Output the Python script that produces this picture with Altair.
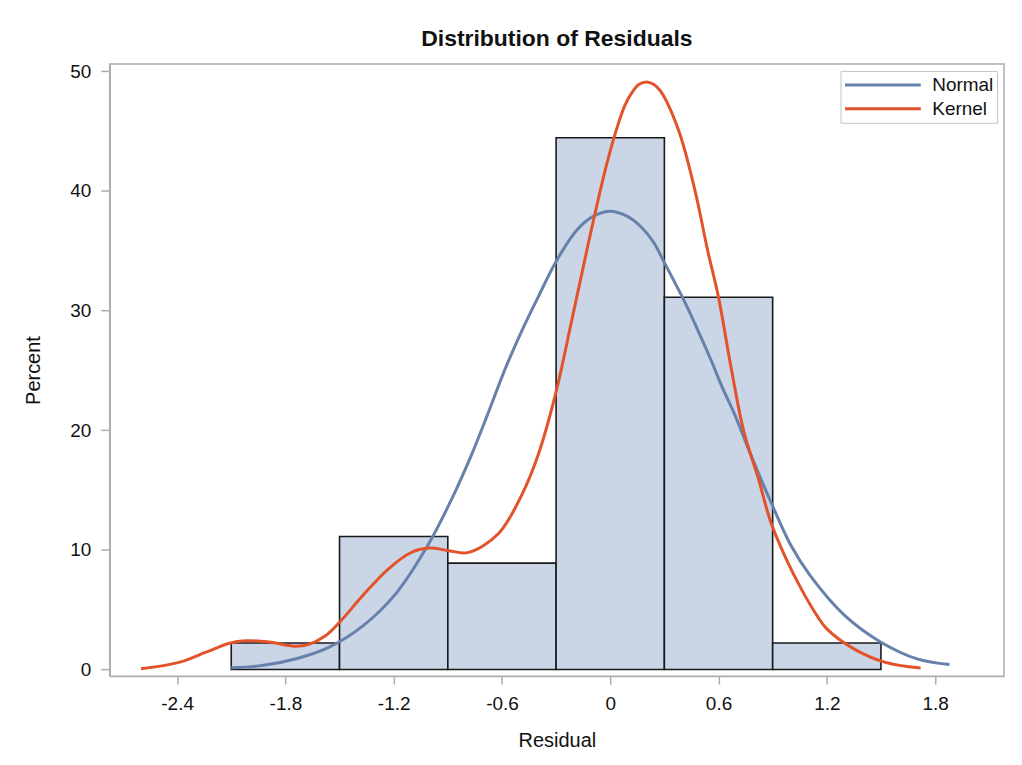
import altair as alt
import pandas as pd

# Histogram bins (Residual) and percentages
bin_start = [-2.1, -1.5, -0.9, -0.3, 0.3, 0.9]
bin_end = [-1.5, -0.9, -0.3, 0.3, 0.9, 1.5]
bin_percent = [2.22, 11.11, 8.89, 44.44, 31.11, 2.22]

# Normal curve points
normal_x = [-2.10, -1.93, -1.74, -1.56, -1.37, -1.19, -1.01, -0.88, -0.77, -0.68,
            -0.58, -0.49, -0.40, -0.30, -0.18, -0.09, 0.0, 0.09, 0.17, 0.24,
            0.30, 0.41, 0.49, 0.56, 0.62, 0.69, 0.78, 0.89, 1.00, 1.11,
            1.30, 1.50, 1.70, 1.88]
normal_y = [0.14, 0.33, 0.9, 1.85, 3.65, 6.3, 10.4, 14.2, 17.9, 21.3,
            25.2, 28.3, 31.1, 34.1, 36.8, 37.9, 38.3, 37.9, 37.0, 35.7,
            34.0, 30.8, 28.2, 25.8, 23.6, 21.3, 17.9, 14.0, 10.4, 7.8,
            4.5, 2.28, 0.89, 0.42]

# Kernel density curve points
kernel_x = [-2.60, -2.39, -2.24, -2.11, -2.02, -1.89, -1.75, -1.67, -1.58, -1.50,
            -1.37, -1.23, -1.10, -1.00, -0.90, -0.79, -0.62, -0.49, -0.40, -0.305,
            -0.21, -0.12, -0.03, 0.03, 0.08, 0.12, 0.16, 0.20, 0.24, 0.28,
            0.38, 0.47, 0.54, 0.60, 0.67, 0.74, 0.82, 0.89, 0.97, 1.06,
            1.15, 1.20, 1.35, 1.52, 1.72]
kernel_y = [0.06, 0.6, 1.45, 2.2, 2.4, 2.3, 1.95, 2.1, 2.8, 3.95,
            6.2, 8.4, 9.8, 10.15, 9.95, 9.77, 11.35, 14.6, 17.9, 22.9,
            29.4, 35.7, 41.6, 44.9, 47.1, 48.2, 48.9, 49.1, 48.9, 48.3,
            45.0, 40.0, 35.0, 31.1, 25.2, 19.9, 16.0, 12.3, 9.4, 6.7,
            4.4, 3.4, 1.73, 0.62, 0.12]

x_ticks = [-2.4, -1.8, -1.2, -0.6, 0, 0.6, 1.2, 1.8]
y_ticks = [0, 10, 20, 30, 40, 50]

bars = pd.DataFrame({"start": bin_start, "end": bin_end, "pct": bin_percent})
curves = pd.concat([
    pd.DataFrame({"x": normal_x, "y": normal_y, "curve": "Normal", "o": range(len(normal_x))}),
    pd.DataFrame({"x": kernel_x, "y": kernel_y, "curve": "Kernel", "o": range(len(kernel_x))}),
])

FONT = "Liberation Sans"
xdom = [-2.7735, 2.182]
ydom = [-0.55, 50.6]

xscale = alt.Scale(domain=xdom, nice=False, zero=False)
yscale = alt.Scale(domain=ydom, nice=False, zero=False)

x_axis = alt.Axis(
    values=x_ticks, title="Residual", grid=False,
    labelExpr="datum.value == 0 ? '0' : (datum.value < 0 ? '-' : '') + format(abs(datum.value), '.1f')",
    labelFontSize=19, titleFontSize=20, titleFontWeight="normal",
    tickSize=8, labelPadding=10, titlePadding=18,
    domainColor="#A9AEB3", tickColor="#A9AEB3", labelColor="#111111", titleColor="#111111",
)
y_axis = alt.Axis(
    values=y_ticks, title="Percent", grid=False, format="d",
    labelFontSize=19, titleFontSize=20, titleFontWeight="normal",
    tickSize=9, labelPadding=10, titlePadding=26,
    domainColor="#A9AEB3", tickColor="#A9AEB3", labelColor="#111111", titleColor="#111111",
)

hist = alt.Chart(bars).mark_rect(
    fill="#CAD5E6", stroke="#1A1A1A", strokeWidth=1.6
).encode(
    x=alt.X("start:Q", scale=xscale, axis=x_axis),
    x2="end:Q",
    y=alt.Y("pct:Q", scale=yscale, axis=y_axis),
    y2=alt.datum(0),
)

lines = alt.Chart(curves).mark_line(
    strokeWidth=3, interpolate="catmull-rom"
).encode(
    x=alt.X("x:Q", scale=xscale),
    y=alt.Y("y:Q", scale=yscale),
    order="o:Q",
    color=alt.Color(
        "curve:N",
        scale=alt.Scale(domain=["Normal", "Kernel"], range=["#6681AB", "#E2532A"]),
        legend=alt.Legend(
            title=None, orient="top-right", offset=7,
            labelFontSize=19, labelFont=FONT, labelColor="#111111",
            symbolType="stroke", symbolSize=5776, symbolStrokeWidth=3,
            clipHeight=22, rowPadding=2,
            fillColor="white", strokeColor="#C4C4C4", padding=3,
            labelOffset=10,
        ),
    ),
)

chart = alt.layer(hist, lines).properties(
    width=897, height=614,
    title=alt.TitleParams(
        "Distribution of Residuals", fontSize=23, font=FONT, fontWeight="bold",
        anchor="middle", offset=11, color="#111111",
    ),
    autosize=alt.AutoSizeParams(type="none"),
    padding={"left": 102, "top": 55, "right": 10, "bottom": 80},
).configure(
    font=FONT,
    background="white",
).configure_view(
    stroke="#A9AEB3", strokeWidth=1.5,
).configure_axis(
    labelFont=FONT, titleFont=FONT, domainWidth=1.5, tickWidth=1.5,
)

chart.save("out.html", embed_options={"renderer": "svg", "actions": False})
